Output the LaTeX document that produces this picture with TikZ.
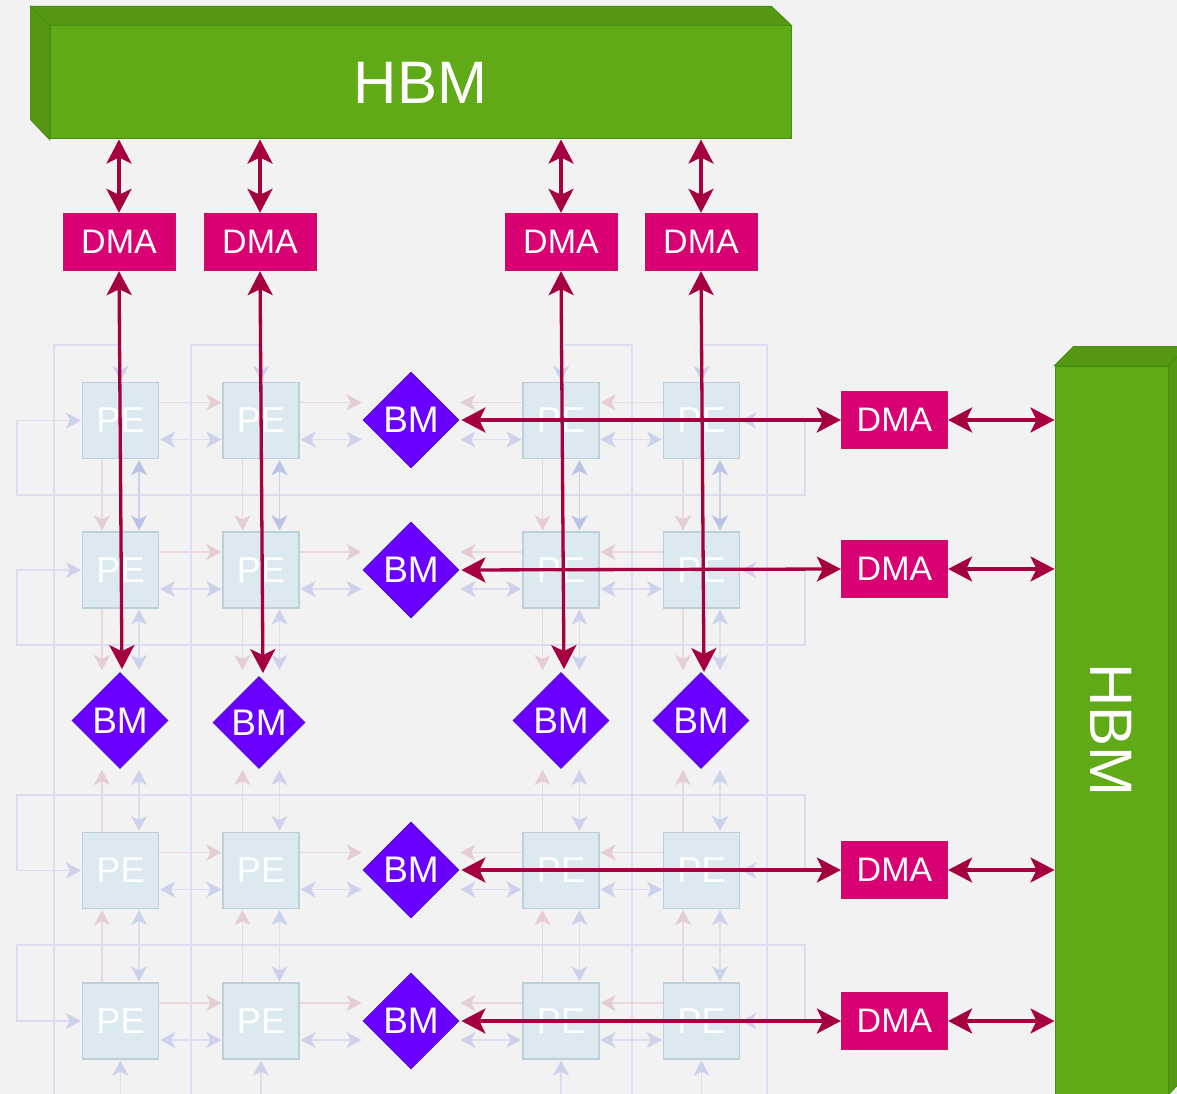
\documentclass[tikz,border=0pt]{standalone}
\usepackage{fontspec}
\setmainfont{Liberation Sans}
\usetikzlibrary{arrows.meta,shapes.geometric}
\definecolor{panelgrey}{HTML}{F2F2F2}
\definecolor{hbmfront}{HTML}{60A917}
\definecolor{hbmside}{HTML}{569813}
\definecolor{hbmline}{HTML}{468F10}
\definecolor{dmafill}{HTML}{D80073}
\definecolor{dmaline}{HTML}{C2185B}
\definecolor{bmfill}{HTML}{6A00FF}
\definecolor{bmline}{HTML}{4A10D0}
\definecolor{pefill}{HTML}{DCE9F1}
\definecolor{peline}{HTML}{BDD0D8}
\definecolor{linkred}{HTML}{EBD8DE}
\definecolor{tipred}{HTML}{E5CDD5}
\definecolor{linkblue}{HTML}{DADEF0}
\definecolor{tipblue}{HTML}{CDD2EC}
\definecolor{deepblue}{HTML}{BAC3E6}
\definecolor{strongred}{HTML}{A50040}
\begin{document}
\begin{tikzpicture}[
		x=1pt, y=-1pt,
		every node/.style={align=center, text=white},
		hbm/.style={rectangle, draw=hbmline, fill=hbmfront, line width=1pt, font=\fontsize{60}{62}\selectfont},
		hbmface/.style={draw=hbmline, fill=hbmside, line width=1pt},
		dma/.style={rectangle, draw=dmaline, fill=dmafill, line width=0.8pt, minimum height=57.5pt, inner sep=0pt, font=\fontsize{34}{36}\selectfont},
		pe/.style={rectangle, draw=peline, fill=pefill, line width=1.2pt, minimum size=76pt, inner sep=0pt, font=\fontsize{36}{38}\selectfont},
		bm/.style={diamond, aspect=1, draw=bmline, fill=bmfill, line width=0.8pt, minimum size=96pt, inner sep=0pt, font=\fontsize{37}{39}\selectfont},
		redlink/.style={draw=linkred, line width=1.2pt, -{Stealth[length=15pt, width=16pt, inset=4pt, color=tipred]}, shorten >=1pt},
		bluelink/.style={draw=linkblue, line width=1.2pt, {Stealth[length=15pt, width=16pt, inset=4pt, color=tipblue]}-{Stealth[length=15pt, width=16pt, inset=4pt, color=tipblue]}, shorten >=1pt, shorten <=1pt},
		deeplink/.style={draw=tipblue, line width=1.2pt, {Stealth[length=15pt, width=16pt, inset=4pt, color=deepblue]}-{Stealth[length=15pt, width=16pt, inset=4pt, color=deepblue]}, shorten >=1pt, shorten <=1pt},
		strong/.style={draw=strongred, line width=3.3pt, {Stealth[length=24pt, width=25pt, inset=6pt]}-{Stealth[length=24pt, width=25pt, inset=6pt]}}
		]
		\useasboundingbox (0,0) rectangle (1177,1094);
		\clip (0,0) rectangle (1177,1094);
		\fill[panelgrey] (0,0) rectangle (1177,1094);
		
		% Free ends of the links around the middle row
		\coordinate (lowend) at (0,671);
		\coordinate (highend) at (0,769);
		
		% Top HBM block
		\node[hbm, minimum width=741pt, minimum height=113pt] (hbmtop) at (420.5,82.5) {HBM};
		\draw[hbmface] (hbmtop.north west) -- ++(-19,-19) -- ++(741,0) -- (hbmtop.north east) -- cycle;
		\draw[hbmface] (hbmtop.north west) -- ++(-19,-19) -- ++(0,113) -- (hbmtop.south west) -- cycle;
		
		% Right HBM block
		\node[hbm, minimum width=113pt, minimum height=728pt] (hbmright) at (1111.5,730) {\rotatebox{-90}{HBM}};
		\draw[hbmface] (hbmright.north west) -- ++(19,-19) -- ++(113,0) -- (hbmright.north east) -- cycle;
		\draw[hbmface] (hbmright.north east) -- ++(19,-19) -- ++(0,728) -- (hbmright.south east) -- cycle;
		
		% PE grid
		\foreach \c/\x in {1/120.5,2/261,3/561,4/701.5}
			\foreach \r/\y in {1/420.5,2/570,3/870.5,4/1021}
				\node[pe] (pe-\c-\r) at (\x,\y) {PE};
		
		% Row loops
		\foreach \r/\y in {1/495,2/645,3/795,4/945}
			\draw[bluelink] (pe-1-\r.west) -| (17,\y) -- (805,\y) |- (pe-4-\r.east);
		
		% Column loops
		\foreach \c/\x in {1/54,2/191,3/632,4/767}
			\draw[bluelink] (pe-\c-1.north) |- (\x,345) -- (\x,1120) -| (pe-\c-4.south);
		
		% BM blocks
		\foreach \r/\y in {1/420,2/570,3/870,4/1021}
			\node[bm] (bm-\r) at (411,\y) {BM};
		\node[bm] (bmcol-1) at (120,720.5) {BM};
		\node[bm, minimum size=92pt] (bmcol-2) at (259,722.5) {BM};
		\node[bm] (bmcol-3) at (561,720.5) {BM};
		\node[bm] (bmcol-4) at (701,720.5) {BM};
		
		% Links along the rows
		\foreach \r in {1,2,3,4} {
			\draw[redlink] ([yshift=18pt]pe-1-\r.east) -- ([yshift=18pt]pe-2-\r.west);
			\draw[bluelink] ([yshift=-19pt]pe-1-\r.east) -- ([yshift=-19pt]pe-2-\r.west);
			\draw[redlink] ([yshift=18pt]pe-2-\r.east) -- ([yshift=18pt]pe-2-\r.east -| bm-\r.west);
			\draw[bluelink] ([yshift=-19pt]pe-2-\r.east) -- ([yshift=-19pt]pe-2-\r.east -| bm-\r.west);
			\draw[redlink] ([yshift=18pt]pe-3-\r.west) -- ([yshift=18pt]pe-3-\r.west -| bm-\r.east);
			\draw[bluelink] ([yshift=-19pt]pe-3-\r.west) -- ([yshift=-19pt]pe-3-\r.west -| bm-\r.east);
			\draw[redlink] ([yshift=18pt]pe-4-\r.west) -- ([yshift=18pt]pe-3-\r.east);
			\draw[bluelink] ([yshift=-19pt]pe-4-\r.west) -- ([yshift=-19pt]pe-3-\r.east);
		}
		
		% Links along the columns
		\foreach \c in {1,2,3,4} {
			\draw[redlink] ([xshift=-18.5pt]pe-\c-1.south) -- ([xshift=-18.5pt]pe-\c-2.north);
			\draw[deeplink] ([xshift=18.5pt]pe-\c-1.south) -- ([xshift=18.5pt]pe-\c-2.north);
			\draw[redlink] ([xshift=-18.5pt]pe-\c-2.south) -- ([xshift=-18.5pt]pe-\c-2.south |- lowend);
			\draw[bluelink] ([xshift=18.5pt]pe-\c-2.south) -- ([xshift=18.5pt]pe-\c-2.south |- lowend);
			\draw[redlink] ([xshift=-18.5pt]pe-\c-3.north) -- ([xshift=-18.5pt]pe-\c-3.north |- highend);
			\draw[bluelink] ([xshift=18.5pt]pe-\c-3.north) -- ([xshift=18.5pt]pe-\c-3.north |- highend);
			\draw[redlink] ([xshift=-18.5pt]pe-\c-4.north) -- ([xshift=-18.5pt]pe-\c-3.south);
			\draw[bluelink] ([xshift=18.5pt]pe-\c-4.north) -- ([xshift=18.5pt]pe-\c-3.south);
		}
		
		% Top DMA blocks
		\foreach \c/\x in {1/119,2/260,3/561,4/701} {
			\node[dma, minimum width=112pt] (dmatop-\c) at (\x,242) {DMA};
			\draw[strong] (dmatop-\c.north |- hbmtop.south) -- (dmatop-\c.north);
		}
		
		% Right DMA blocks
		\foreach \r/\y in {1/420,2/569,3/870,4/1021} {
			\node[dma, minimum width=106.5pt] (dmaright-\r) at (894.5,\y) {DMA};
			\draw[strong] (dmaright-\r.east) -- (dmaright-\r.east -| hbmright.west);
			\draw[strong, shorten <=2pt] (bm-\r.east) -- (dmaright-\r.west);
		}
		
		% Long links from the top DMA blocks
		\draw[strong, shorten >=3pt] (dmatop-1.south) -- ([xshift=2pt]bmcol-1.north);
		\draw[strong, shorten >=3pt] (dmatop-2.south) -- ([xshift=4pt]bmcol-2.north);
		\draw[strong, shorten >=3pt] (dmatop-3.south) -- ([xshift=3pt]bmcol-3.north);
		\draw[strong] (dmatop-4.south) -- ([xshift=3pt]bmcol-4.north);
		
	\end{tikzpicture}
\end{document}
